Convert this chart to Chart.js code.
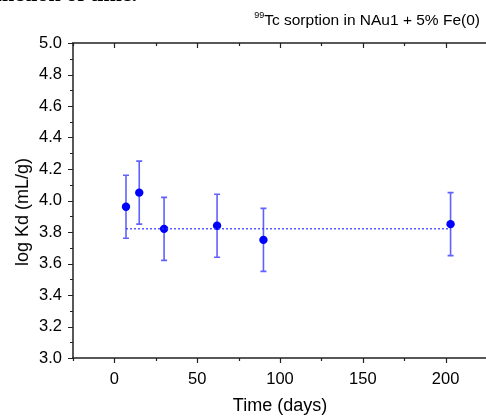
<!DOCTYPE html>
<html><head><meta charset="utf-8">
<script src="https://cdn.jsdelivr.net/npm/chart.js@4.4.0/dist/chart.umd.min.js"></script>
<style>
html,body{margin:0;padding:0;background:#fff;overflow:hidden;}
#wrap{position:relative;width:486px;height:416px;overflow:hidden;}
#c{position:absolute;left:0;top:0;}
#title{position:absolute;right:6px;top:11px;font:15.5px "Liberation Sans",Arial,sans-serif;color:#000;white-space:nowrap;line-height:18px;}
#title sup{font-size:9px;line-height:0;position:relative;top:4px;vertical-align:top;}
#clipbox{position:absolute;left:0;top:0;width:140px;height:2px;overflow:hidden;}
#clip{position:absolute;right:3px;top:-17px;font:bold 22px "Liberation Serif",serif;white-space:nowrap;color:#000;line-height:22px;}
#ytitle{position:absolute;left:22px;top:212px;transform:translate(-50%,-50%) rotate(-90deg);font:18px "Liberation Sans",Arial,sans-serif;color:#000;white-space:nowrap;line-height:20px;}
</style>
</head><body>
<div id="wrap">
<canvas id="c" width="499" height="416"></canvas>
<div id="clipbox"><div id="clip">as a function of time.</div></div>
<div id="title"><sup>99</sup>Tc sorption in NAu1 + 5% Fe(0)</div>
<div id="ytitle">log Kd (mL/g)</div>
</div>
<script>
// ---- data ----
const times = [7, 15, 30, 62, 90, 203];
const logKd = [3.96, 4.05, 3.82, 3.84, 3.75, 3.85];
const errors = [0.2, 0.2, 0.2, 0.2, 0.2, 0.2];
const meanValue = 3.82;
const meanRange = [7, 203];
const xTicks = [-25, 0, 25, 50, 75, 100, 125, 150, 175, 200, 225];
const xLabelTicks = [0, 50, 100, 150, 200];
const yTicks = [3.0,3.1,3.2,3.3,3.4,3.5,3.6,3.7,3.8,3.9,4.0,4.1,4.2,4.3,4.4,4.5,4.6,4.7,4.8,4.9,5.0];
const yLabelTicks = [3.0,3.2,3.4,3.6,3.8,4.0,4.2,4.4,4.6,4.8,5.0];

const FONT = '"Liberation Sans", Arial, sans-serif';
const AXIS = '#222';

const errorBars = {
  id: 'errorBars',
  beforeDatasetsDraw(chart) {
    const {ctx, scales: {x, y}} = chart;
    ctx.save();
    ctx.strokeStyle = 'rgba(30,30,255,0.7)';
    ctx.lineWidth = 1.6;
    for (let i = 0; i < times.length; i++) {
      const px = x.getPixelForValue(times[i]);
      const top = y.getPixelForValue(logKd[i] + errors[i]);
      const bot = y.getPixelForValue(logKd[i] - errors[i]);
      ctx.beginPath();
      ctx.moveTo(px, top); ctx.lineTo(px, bot);
      ctx.moveTo(px - 3, top); ctx.lineTo(px + 3, top);
      ctx.moveTo(px - 3, bot); ctx.lineTo(px + 3, bot);
      ctx.stroke();
    }
    ctx.restore();
  }
};

const frame = {
  id: 'frame',
  afterDraw(chart) {
    const {ctx, chartArea: a, scales: {x, y}} = chart;
    ctx.save();
    ctx.strokeStyle = AXIS;
    ctx.lineWidth = 1.5;
    ctx.beginPath();
    ctx.moveTo(a.left, a.top); ctx.lineTo(a.left, a.bottom);
    ctx.moveTo(a.left - 1, a.bottom); ctx.lineTo(a.right, a.bottom);
    ctx.moveTo(a.left - 1, a.top); ctx.lineTo(a.right, a.top);
    ctx.moveTo(a.right, a.top); ctx.lineTo(a.right, a.bottom);
    ctx.stroke();
    ctx.lineWidth = 1.2;
    ctx.beginPath();
    xTicks.forEach(v => {
      const px = Math.round(x.getPixelForValue(v)) + 0.5;
      const major = xLabelTicks.includes(v);
      const len = major ? 5 : 3;
      ctx.moveTo(px, a.bottom); ctx.lineTo(px, a.bottom + len);
      ctx.moveTo(px, a.top); ctx.lineTo(px, a.top + len);
    });
    yTicks.forEach(v => {
      const py = Math.round(y.getPixelForValue(v)) + 0.5;
      const major = yLabelTicks.some(t => Math.abs(t - v) < 1e-6);
      const len = major ? 5 : 3;
      ctx.moveTo(a.left, py); ctx.lineTo(a.left - len, py);
    });
    ctx.stroke();
    ctx.restore();
  }
};

new Chart(document.getElementById('c'), {
  data: {
    datasets: [
      {
        type: 'line',
        data: meanRange.map(t => ({x: t, y: meanValue})),
        borderColor: 'rgba(50,50,255,0.8)',
        borderWidth: 1.5,
        borderDash: [2, 2],
        pointRadius: 0,
        fill: false
      },
      {
        type: 'scatter',
        data: times.map((t, i) => ({x: t, y: logKd[i]})),
        backgroundColor: '#0000ff',
        borderColor: '#0000ff',
        pointRadius: 4.2,
        borderWidth: 0
      }
    ]
  },
  options: {
    responsive: false,
    animation: false,
    devicePixelRatio: 1,
    layout: {padding: {top: 43, right: 1, bottom: 0, left: 0}},
    plugins: {legend: {display: false}, tooltip: {enabled: false}, title: {display: false}},
    scales: {
      x: {
        type: 'linear', position: 'bottom', min: -25, max: 225,
        afterBuildTicks: s => { s.ticks = xTicks.map(v => ({value: v})); },
        afterFit: s => { s.height = 58; },
        grid: {display: false, drawTicks: false},
        border: {display: false},
        ticks: {
          autoSkip: false, maxRotation: 0, padding: 12, color: '#000',
          font: {family: FONT, size: 16.5},
          callback: v => xLabelTicks.includes(v) ? String(v) : ''
        },
        title: {display: true, text: 'Time (days)', color: '#000', font: {family: FONT, size: 18, lineHeight: 1.1}, padding: {top: 0, bottom: 0}}
      },
      y: {
        type: 'linear', position: 'left', min: 3, max: 5,
        afterBuildTicks: s => { s.ticks = yTicks.map(v => ({value: v})); },
        afterFit: s => { s.width = 73; },
        grid: {display: false, drawTicks: false},
        border: {display: false},
        ticks: {
          autoSkip: false, padding: 11, color: '#000',
          font: {family: FONT, size: 16.5},
          callback: v => yLabelTicks.some(t => Math.abs(t - v) < 1e-6) ? v.toFixed(1) : ''
        },
        title: {display: false}
      }
    }
  },
  plugins: [errorBars, frame]
});
</script>
</body></html>
